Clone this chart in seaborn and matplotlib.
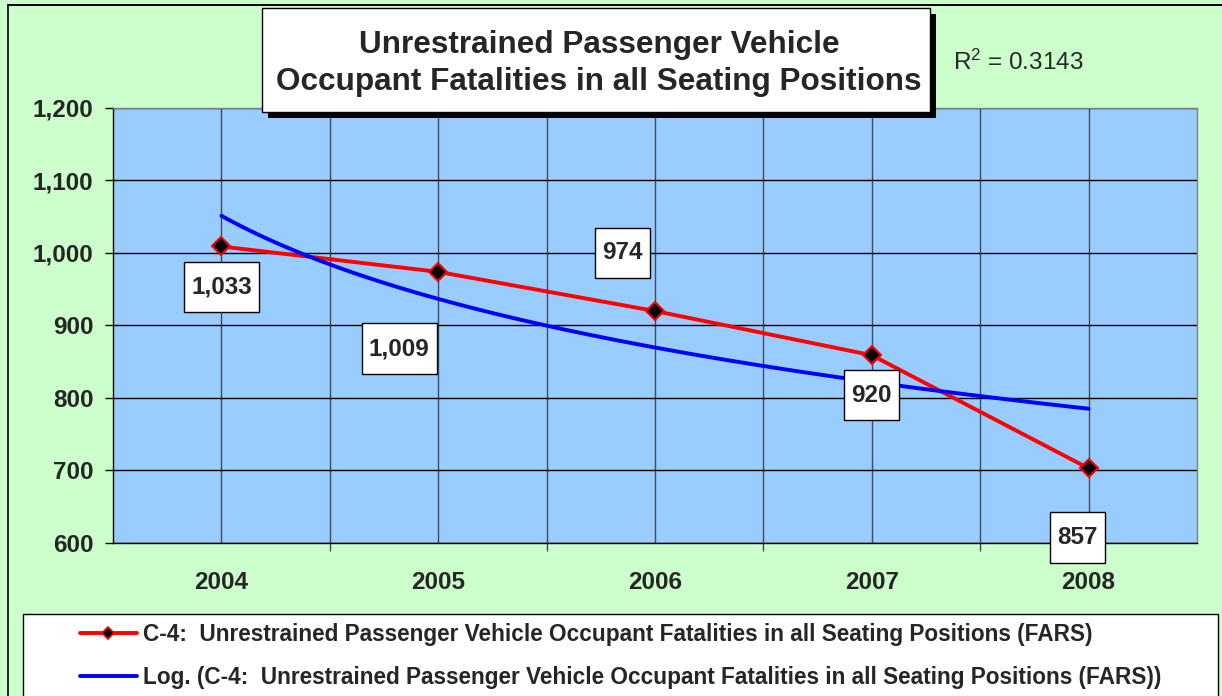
import numpy as np
import pandas as pd
import matplotlib
matplotlib.use("Agg")
import matplotlib.pyplot as plt
import seaborn as sns
from matplotlib.patches import Rectangle
from matplotlib.lines import Line2D
from matplotlib.path import Path

# ---------------- data ----------------
years = ["2004", "2005", "2006", "2007", "2008"]
fatalities = [1009, 974, 920, 859, 703]
point_labels = ["1,033", "1,009", "974", "920", "857"]
y_ticks = [600, 700, 800, 900, 1000, 1100, 1200]
y_tick_labels = ["600", "700", "800", "900", "1,000", "1,100", "1,200"]
title_lines = ["Unrestrained Passenger Vehicle",
               "Occupant Fatalities in all Seating Positions"]
r_squared_text = r"R$^{2}$ = 0.3143"
series_name = "C-4:  Unrestrained Passenger Vehicle Occupant Fatalities in all Seating Positions (FARS)"
trend_name = "Log. (C-4:  Unrestrained Passenger Vehicle Occupant Fatalities in all Seating Positions (FARS))"

# layout: where the data-label boxes sit (data coordinates)
label_pos = [(1.0, 953), (1.82, 868), (2.85, 1000), (4.0, 804), (4.95, 608)]

# ---------------- style ----------------
sns.set_style("white")
plt.rcParams["font.family"] = ["Liberation Sans", "DejaVu Sans"]
plt.rcParams["mathtext.fontset"] = "custom"
plt.rcParams["mathtext.rm"] = "Liberation Sans"
plt.rcParams["mathtext.it"] = "Liberation Sans"

W, H = 1222, 696
fig = plt.figure(figsize=(W / 100, H / 100), dpi=100, linewidth=0)
fig.patch.set_facecolor("#CCFFCC")
fig.patch.set_edgecolor("#CCFFCC")


def fx(px):
    return px / W


def fy(py):
    return 1 - py / H


def tall_box(x0, y0, width, height, mutation_size):
    padx = 0.3 * mutation_size
    pady = 0.57 * mutation_size
    x0, y0 = x0 - padx, y0 - pady
    x1, y1 = x0 + width + 2 * padx, y0 + height + 2 * pady
    return Path([(x0, y0), (x1, y0), (x1, y1), (x0, y1), (x0, y0)], closed=True)


# outer chart-area border (left and top edges; it runs off the right / bottom)
fig.add_artist(Line2D([fx(8), fx(8)], [0, fy(5)], transform=fig.transFigure,
                      color="black", lw=1.2))
fig.add_artist(Line2D([fx(8), 1], [fy(5), fy(5)], transform=fig.transFigure,
                      color="black", lw=1.4))

ax = fig.add_axes([fx(113), fy(543), (1197 - 113) / W, (543 - 108) / H])
ax.set_facecolor("#99CCFF")

df = pd.DataFrame({"pos": np.arange(1, len(years) + 1), "fatalities": fatalities})

sns.lineplot(data=df, x="pos", y="fatalities", ax=ax, color="#FF0000", lw=2.8,
             marker="D", markersize=9.5, markerfacecolor="black",
             markeredgecolor="#FF0000", markeredgewidth=1.5, zorder=3)
sns.regplot(data=df, x="pos", y="fatalities", ax=ax, logx=True, ci=None,
            scatter=False, line_kws=dict(color="#0000FF", lw=2.8, zorder=4))

ax.set_xlim(0.5, 5.5)
ax.set_ylim(600, 1200)
ax.set_xlabel("")
ax.set_ylabel("")
ax.set_xticks(df["pos"])
ax.set_xticklabels(years, fontsize=17.5, fontweight="bold")
ax.set_xticks(np.arange(1.5, 5.5, 1), minor=True)
ax.tick_params(axis="x", which="major", length=0, pad=20, bottom=True)
ax.tick_params(axis="x", which="minor", length=6, width=1, direction="out",
               color="#3f4c5a", bottom=True)
ax.set_yticks(y_ticks)
ax.set_yticklabels(y_tick_labels, fontsize=17.5, fontweight="bold")
ax.tick_params(axis="y", length=6, width=1, direction="out", color="black",
               pad=8, left=True)

ax.grid(axis="x", which="both", color="#3f4c5a", lw=1)
ax.grid(axis="y", which="major", color="black", lw=1)
ax.set_axisbelow(True)
for s in ["left", "bottom"]:
    ax.spines[s].set_color("black")
    ax.spines[s].set_linewidth(1)
for s in ["top", "right"]:
    ax.spines[s].set_color("#808080")
    ax.spines[s].set_linewidth(1)

for (x, y), t in zip(label_pos, point_labels):
    ax.text(x, y, t, ha="center", va="center", fontsize=17.5, fontweight="bold",
            zorder=6, bbox=dict(boxstyle=tall_box, fc="white", ec="black", lw=1))

# title box with shadow
fig.add_artist(Rectangle((fx(268), fy(118)), (936 - 268) / W, (118 - 14) / H,
                         transform=fig.transFigure, fc="black", ec="black", lw=0))
fig.add_artist(Rectangle((fx(262), fy(112)), (930 - 262) / W, (112 - 8) / H,
                         transform=fig.transFigure, fc="white", ec="black", lw=1))
fig.text(fx(599), fy(63.5), "\n".join(title_lines), ha="center", va="center",
         fontsize=22.7, fontweight="bold", linespacing=1.33)

fig.text(fx(953), fy(62), r_squared_text, ha="left", va="center", fontsize=17.5)

# legend box
fig.add_artist(Rectangle((fx(23), fy(710)), (1218 - 23) / W, (710 - 614) / H,
                         transform=fig.transFigure, fc="white", ec="black", lw=1))
# keep the right-hand strip plain background
fig.add_artist(Rectangle((fx(1219.5), 0), 1 - fx(1219.5) + 0.01, fy(7.5),
                         transform=fig.transFigure, fc="#CCFFCC", ec="none",
                         lw=0, zorder=10))
handles = [Line2D([], [], color="#FF0000", lw=2.8, marker="D", markersize=6.5,
                  markerfacecolor="black", markeredgecolor="#FF0000", markeredgewidth=1.2),
           Line2D([], [], color="#0000FF", lw=2.8)]
fig.legend(handles, [series_name, trend_name], loc="upper left",
           bbox_to_anchor=(fx(80), fy(623)), frameon=False,
           prop=dict(size=16.3, weight="bold"), handlelength=2.5,
           handletextpad=0.27, labelspacing=0.88, borderpad=0, borderaxespad=0)

fig.savefig("out.png", dpi=100, facecolor="#CCFFCC", edgecolor="#CCFFCC")
